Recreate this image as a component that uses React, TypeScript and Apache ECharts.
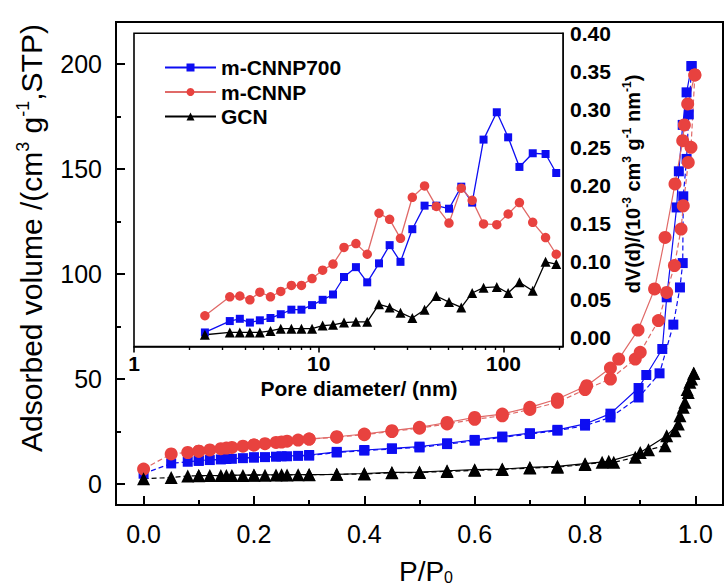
import React, { useEffect, useRef } from 'react';
import * as echarts from 'echarts';

const FONT = "'Liberation Sans', Arial, Helvetica, sans-serif";

// ---- N2 isotherms: relative pressure P/P0 and adsorbed volume (cm3 g-1, STP) ----
// m-CNNP700
const cnnp700AdsP = [0, 0.05, 0.08, 0.1, 0.12, 0.14, 0.16, 0.18, 0.2, 0.22, 0.24, 0.26, 0.28, 0.3, 0.35, 0.4, 0.45, 0.5, 0.55, 0.6, 0.65, 0.7, 0.75, 0.8, 0.846, 0.897, 0.935, 0.96, 0.972, 0.977, 0.978, 0.984, 0.988, 0.993];
const cnnp700AdsV = [4.9, 9.8, 10.6, 11.0, 11.4, 11.7, 12.0, 12.3, 12.6, 12.8, 13.0, 13.2, 13.4, 13.5, 15.0, 15.9, 16.7, 17.4, 19.0, 20.6, 22.2, 23.8, 25.4, 27.8, 31.7, 41.2, 52.7, 75.9, 93.6, 105.2, 137.0, 154.8, 176.0, 199.0];
const cnnp700DesP = [0.993, 0.984, 0.977, 0.97, 0.966, 0.948, 0.94, 0.911, 0.897, 0.846, 0.8, 0.75, 0.7, 0.65, 0.6, 0.55, 0.5, 0.45, 0.4, 0.35, 0.3, 0.25, 0.2, 0.15, 0.1];
const cnnp700DesV = [199.0, 186.5, 171.0, 148.9, 131.7, 88.9, 64.3, 51.9, 45.7, 33.5, 28.6, 25.8, 24.2, 22.6, 21.0, 19.4, 17.8, 17.0, 16.2, 15.3, 13.8, 13.2, 12.7, 11.9, 11.2];

// m-CNNP
const cnnpAdsP = [0, 0.05, 0.08, 0.1, 0.12, 0.14, 0.16, 0.18, 0.2, 0.22, 0.24, 0.26, 0.28, 0.3, 0.35, 0.4, 0.45, 0.5, 0.55, 0.6, 0.65, 0.7, 0.75, 0.8, 0.846, 0.891, 0.9, 0.933, 0.948, 0.962, 0.974, 0.978, 0.987, 0.992, 0.999];
const cnnpAdsV = [7.1, 14.3, 15.0, 15.6, 16.2, 16.8, 17.4, 18.0, 18.6, 19.2, 19.8, 20.4, 20.9, 21.4, 22.3, 23.5, 25.0, 26.6, 28.6, 30.8, 32.5, 35.5, 38.9, 45.0, 50.0, 59.5, 62.7, 77.8, 91.2, 104.0, 121.4, 132.5, 153.1, 160.3, 194.8];
const cnnpDesP = [0.999, 0.986, 0.98, 0.977, 0.963, 0.945, 0.926, 0.896, 0.861, 0.846, 0.803, 0.75, 0.7, 0.65, 0.6, 0.55, 0.5, 0.45, 0.4, 0.35, 0.3, 0.25, 0.2, 0.15, 0.1];
const cnnpDesV = [194.8, 181.0, 171.0, 163.5, 142.9, 117.4, 92.9, 73.3, 59.5, 55.2, 46.8, 40.5, 36.5, 33.3, 31.7, 29.3, 27.0, 25.4, 23.8, 22.5, 21.4, 20.0, 18.6, 17.1, 15.6];

// GCN
const gcnAdsP = [0, 0.05, 0.08, 0.1, 0.12, 0.14, 0.16, 0.18, 0.2, 0.22, 0.24, 0.26, 0.28, 0.3, 0.35, 0.4, 0.45, 0.5, 0.55, 0.6, 0.65, 0.7, 0.75, 0.8, 0.831, 0.852, 0.891, 0.915, 0.945, 0.963, 0.972, 0.981, 0.987, 0.993, 0.997];
const gcnAdsV = [2.5, 3.1, 3.8, 3.9, 4.0, 4.0, 4.1, 4.1, 4.2, 4.2, 4.3, 4.3, 4.4, 4.4, 4.6, 4.8, 5.3, 5.5, 6.0, 6.5, 6.9, 7.6, 8.0, 9.3, 10.3, 10.3, 12.7, 16.3, 18.2, 25.4, 32.5, 38.9, 43.6, 50.0, 52.7];
const gcnDesP = [0.997, 0.99, 0.985, 0.978, 0.969, 0.948, 0.9, 0.843, 0.8, 0.75, 0.7, 0.65, 0.6, 0.55, 0.5, 0.45, 0.4, 0.35, 0.3, 0.25, 0.2, 0.15, 0.1];
const gcnDesV = [52.7, 48.4, 45.0, 36.5, 28.6, 23.0, 15.0, 10.8, 9.7, 8.4, 7.9, 7.1, 6.8, 6.3, 5.7, 5.5, 5.0, 4.6, 4.5, 4.4, 4.3, 4.1, 4.0];

// ---- Pore size distribution (inset): pore diameter (nm) and dV(d) ----
const poreDiameter = [2.42, 3.3, 3.74, 4.24, 4.8, 5.48, 6.23, 7.11, 8.06, 9.2, 10.5, 11.95, 13.7, 15.9, 18.3, 21.2, 24.2, 27.7, 32.1, 37.4, 43.3, 50.7, 59.1, 67.7, 78, 92, 106, 122, 144, 169, 193];
const psdCnnp700 = [0.006, 0.021, 0.024, 0.019, 0.022, 0.025, 0.03, 0.036, 0.036, 0.042, 0.049, 0.056, 0.079, 0.092, 0.072, 0.097, 0.121, 0.099, 0.142, 0.173, 0.173, 0.169, 0.198, 0.177, 0.26, 0.296, 0.263, 0.224, 0.242, 0.241, 0.216];
const psdCnnp = [0.028, 0.053, 0.054, 0.049, 0.059, 0.053, 0.06, 0.068, 0.068, 0.077, 0.088, 0.096, 0.118, 0.123, 0.109, 0.163, 0.155, 0.13, 0.184, 0.199, 0.172, 0.15, 0.196, 0.18, 0.149, 0.148, 0.162, 0.177, 0.151, 0.131, 0.109];
const psdGcn = [0.003, 0.006, 0.006, 0.006, 0.006, 0.008, 0.011, 0.011, 0.011, 0.011, 0.015, 0.016, 0.019, 0.02, 0.02, 0.043, 0.039, 0.032, 0.025, 0.036, 0.054, 0.046, 0.039, 0.058, 0.065, 0.066, 0.058, 0.072, 0.061, 0.099, 0.096];

// ---- Tick positions ----
const mainXTicks = [0, 0.2, 0.4, 0.6, 0.8, 1.0];
const mainXMinor = [0.1, 0.3, 0.5, 0.7, 0.9];
const mainYTicks = [0, 50, 100, 150, 200];
const mainYMinor = [25, 75, 125, 175];
const insetXTicks = [1, 10, 100];
const insetXMinor = [2, 3, 4, 5, 6, 7, 8, 9, 20, 30, 40, 50, 60, 70, 80, 90, 200];
const insetYTicks = [0, 0.05, 0.1, 0.15, 0.2, 0.25, 0.3, 0.35, 0.4];
const insetYMinor = [0.025, 0.075, 0.125, 0.175, 0.225, 0.275, 0.325, 0.375];

const BLUE = '#0d0df2';
const RED = '#e8423f';
const RED_LINE = '#e06a68';
const BLACK = '#000000';

const pairs = (xs: number[], ys: number[]) => xs.map((x, i) => [x, ys[i]]);

const samples = [
  { name: 'm-CNNP700', color: BLUE, line: BLUE, symbol: 'rect', mainSize: 10, insetSize: 8, psd: psdCnnp700, ads: pairs(cnnp700AdsP, cnnp700AdsV), des: pairs(cnnp700DesP, cnnp700DesV) },
  { name: 'm-CNNP', color: RED, line: RED_LINE, symbol: 'circle', mainSize: 13, insetSize: 9.5, psd: psdCnnp, ads: pairs(cnnpAdsP, cnnpAdsV), des: pairs(cnnpDesP, cnnpDesV) },
  { name: 'GCN', color: BLACK, line: BLACK, symbol: 'triangle', mainSize: 13, insetSize: 10, psd: psdGcn, ads: pairs(gcnAdsP, gcnAdsV), des: pairs(gcnDesP, gcnDesV) },
];

const blackLine = (width: number) => ({ color: '#000', width });

const tickAxisX = (grid: number, type: string, min: number, max: number, values: number[], len: number, inside: boolean, width: number) => ({
  gridIndex: grid,
  type,
  position: 'bottom',
  min,
  max,
  axisLine: { show: false, onZero: false },
  axisTick: { show: true, inside, length: len, lineStyle: blackLine(width), customValues: values },
  axisLabel: { show: false },
  splitLine: { show: false },
  minorTick: { show: false },
});

const tickAxisY = (grid: number, position: string, min: number, max: number, values: number[], len: number, width: number) => ({
  gridIndex: grid,
  type: 'value',
  position,
  min,
  max,
  axisLine: { show: false, onZero: false },
  axisTick: { show: true, inside: true, length: len, lineStyle: blackLine(width), customValues: values },
  axisLabel: { show: false },
  splitLine: { show: false },
});

const series: any[] = [];
samples.forEach((s) => {
  series.push({
    name: s.name,
    type: 'line',
    xAxisIndex: 2,
    yAxisIndex: 2,
    data: pairs(poreDiameter, s.psd),
    symbol: s.symbol,
    symbolSize: s.insetSize,
    itemStyle: { color: s.color },
    lineStyle: { color: s.line, width: 1.3 },
    z: 5,
  });
});
samples.forEach((s) => {
  series.push({
    name: s.name,
    type: 'line',
    xAxisIndex: 0,
    yAxisIndex: 0,
    data: s.ads,
    symbol: s.symbol,
    symbolSize: s.mainSize,
    itemStyle: { color: s.color },
    lineStyle: { color: s.line, width: 1.2, type: [5, 3] },
    z: 3,
  });
  series.push({
    name: s.name,
    type: 'line',
    xAxisIndex: 0,
    yAxisIndex: 0,
    data: s.des,
    symbol: s.symbol,
    symbolSize: s.mainSize,
    itemStyle: { color: s.color },
    lineStyle: { color: s.line, width: 1.2 },
    z: 3,
  });
});

const option: any = {
  animation: false,
  backgroundColor: '#ffffff',
  grid: [
    { left: 116, top: 22, right: 1, bottom: 81, show: true, borderColor: '#000', borderWidth: 2, backgroundColor: 'transparent', containLabel: false, outerBoundsMode: 'none' },
    { left: 134, top: 33.3, right: 161, bottom: 239.5, show: true, borderColor: '#000', borderWidth: 1.6, backgroundColor: '#ffffff', containLabel: false, outerBoundsMode: 'none', z: 1 },
  ],
  legend: {
    data: samples.map((s) => s.name),
    orient: 'vertical',
    left: 159,
    top: 52,
    itemWidth: 51,
    itemHeight: 10,
    itemGap: 3.5,
    selectedMode: false,
    textStyle: { fontFamily: FONT, fontWeight: 'bold', fontSize: 21, color: '#000' },
  },
  xAxis: [
    {
      gridIndex: 0,
      type: 'value',
      position: 'bottom',
      min: -0.05,
      max: 1.05,
      axisLine: { show: true, onZero: false, lineStyle: blackLine(2) },
      axisTick: { show: true, inside: true, length: 9, lineStyle: blackLine(2), customValues: mainXTicks },
      axisLabel: { customValues: mainXTicks, formatter: (v: number) => v.toFixed(1), fontFamily: FONT, fontSize: 25, color: '#000', margin: 16 },
      splitLine: { show: false },
    },
    tickAxisX(0, 'value', -0.05, 1.05, mainXMinor, 5, true, 2),
    {
      gridIndex: 1,
      type: 'log',
      logBase: 10,
      position: 'bottom',
      min: 1,
      max: 210,
      axisLine: { show: true, onZero: false, lineStyle: blackLine(1.6) },
      axisTick: { show: true, inside: false, length: 6, lineStyle: blackLine(1.6), customValues: insetXTicks },
      axisLabel: { customValues: insetXTicks, formatter: (v: number) => String(Math.round(v)), fontFamily: FONT, fontWeight: 'bold', fontSize: 21, color: '#000', margin: 6 },
      splitLine: { show: false },
    },
    tickAxisX(1, 'log', 1, 210, insetXMinor, 3.5, false, 1.4),
  ],
  yAxis: [
    {
      gridIndex: 0,
      type: 'value',
      position: 'left',
      min: -10,
      max: 220,
      axisLine: { show: true, onZero: false, lineStyle: blackLine(2) },
      axisTick: { show: true, inside: true, length: 9, lineStyle: blackLine(2), customValues: mainYTicks },
      axisLabel: { customValues: mainYTicks, formatter: (v: number) => String(v), fontFamily: FONT, fontSize: 25, color: '#000', margin: 14 },
      splitLine: { show: false },
    },
    tickAxisY(0, 'left', -10, 220, mainYMinor, 5, 2),
    {
      gridIndex: 1,
      type: 'value',
      position: 'right',
      min: -0.0125,
      max: 0.4,
      axisLine: { show: true, onZero: false, lineStyle: blackLine(1.6) },
      axisTick: { show: true, inside: true, length: 6, lineStyle: blackLine(1.6), customValues: insetYTicks },
      axisLabel: { customValues: insetYTicks, formatter: (v: number) => v.toFixed(2), fontFamily: FONT, fontWeight: 'bold', fontSize: 21, color: '#000', margin: 7 },
      splitLine: { show: false },
    },
    tickAxisY(1, 'right', -0.0125, 0.4, insetYMinor, 3.5, 1.4),
  ],
  graphic: [
    {
      type: 'text',
      x: 31,
      y: 238,
      rotation: Math.PI / 2,
      style: {
        text: '{n|Adsorbed volume /(cm}{s|3}{n| g}{s|-1}{n|,STP)}',
        align: 'center',
        verticalAlign: 'middle',
        fill: '#000',
        rich: {
          n: { fontFamily: FONT, fontSize: 30, lineHeight: 34, fill: '#000' },
          s: { fontFamily: FONT, fontSize: 18, lineHeight: 21, verticalAlign: 'top', fill: '#000' },
        },
      },
    },
    {
      type: 'text',
      x: 426,
      y: 571,
      style: {
        text: '{n|P/P}{s|0}',
        align: 'center',
        verticalAlign: 'middle',
        fill: '#000',
        rich: {
          n: { fontFamily: FONT, fontSize: 28, lineHeight: 28, fill: '#000' },
          s: { fontFamily: FONT, fontSize: 16, lineHeight: 12, verticalAlign: 'bottom', fill: '#000' },
        },
      },
    },
    {
      type: 'text',
      x: 359,
      y: 388,
      style: {
        text: 'Pore diameter/ (nm)',
        align: 'center',
        verticalAlign: 'middle',
        fill: '#000',
        font: `bold 21px ${FONT}`,
      },
    },
    {
      type: 'text',
      x: 633,
      y: 184,
      rotation: Math.PI / 2,
      style: {
        text: '{n|dV(d)/(10}{s|-3}{n| cm}{s|3}{n| g}{s|-1}{n| nm}{s|-1}{n|)}',
        align: 'center',
        verticalAlign: 'middle',
        fill: '#000',
        rich: {
          n: { fontFamily: FONT, fontWeight: 'bold', fontSize: 20, lineHeight: 24, fill: '#000' },
          s: { fontFamily: FONT, fontWeight: 'bold', fontSize: 12, lineHeight: 14, verticalAlign: 'top', fill: '#000' },
        },
      },
    },
  ],
  series,
};

export default function App() {
  const ref = useRef<HTMLDivElement>(null);
  useEffect(() => {
    if (!ref.current) return;
    const chart = echarts.init(ref.current, null, { renderer: 'svg' });
    chart.setOption(option);
    return () => chart.dispose();
  }, []);
  return (
    <div
      ref={ref}
      style={{ position: 'absolute', left: 0, top: 0, width: 724, height: 586, background: '#fff' }}
    />
  );
}
